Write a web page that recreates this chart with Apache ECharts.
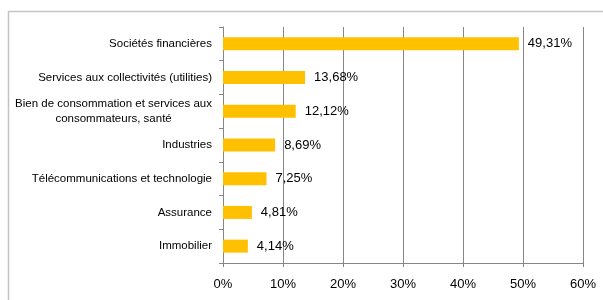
<!DOCTYPE html>
<html>
<head>
<meta charset="utf-8">
<script src="https://cdn.jsdelivr.net/npm/echarts@6/dist/echarts.min.js"></script>
<style>
html, body { margin: 0; padding: 0; background: #fff; }
#main { width: 603px; height: 300px; }
</style>
</head>
<body>
<div id="main"></div>
<script>
// sectors, top to bottom
var categories = [
  'Sociétés financières',
  'Services aux collectivités (utilities)',
  'Bien de consommation et services aux\nconsommateurs, santé',
  'Industries',
  'Télécommunications et technologie',
  'Assurance',
  'Immobilier'
];
var weights = [49.31, 13.68, 12.12, 8.69, 7.25, 4.81, 4.14];

var chart = echarts.init(document.getElementById('main'));

var option = {
  backgroundColor: '#fff',
  animation: false,
  textStyle: { fontFamily: 'Liberation Sans' },
  graphic: [{
    type: 'rect',
    left: 6, top: 9,
    shape: { width: 700, height: 400 },
    style: { fill: 'none', stroke: '#c4c4c4', lineWidth: 1.5 },
    silent: true
  }],
  grid: { left: 223, right: 20, top: 27, bottom: 37 },
  xAxis: {
    type: 'value',
    min: 0,
    max: 60,
    interval: 10,
    axisLine: { show: true, lineStyle: { color: '#868686' } },
    axisTick: { show: true, length: 4, lineStyle: { color: '#868686' } },
    splitLine: { show: true, lineStyle: { color: '#868686' } },
    axisLabel: { formatter: '{value}%', color: '#000', fontSize: 13, margin: 15 }
  },
  yAxis: {
    type: 'category',
    inverse: true,
    data: categories,
    axisLine: { show: true, lineStyle: { color: '#868686' } },
    axisTick: { show: true, length: 4, lineStyle: { color: '#868686' } },
    axisLabel: {
      color: '#000',
      fontSize: 11.5,
      margin: 11,
      lineHeight: 15,
      formatter: function (v) {
        return v.split('\n').map(function (s) { return '{c|' + s + '}'; }).join('\n');
      },
      rich: { c: { align: 'center', fontSize: 11.5, color: '#000', lineHeight: 15 } }
    }
  },
  series: [{
    type: 'bar',
    data: weights,
    barWidth: 13,
    itemStyle: { color: '#FFC000' },
    label: {
      show: true,
      position: 'right',
      distance: 9,
      color: '#000',
      fontSize: 13,
      formatter: function (p) { return p.value.toFixed(2).replace('.', ',') + '%'; }
    }
  }]
};

chart.setOption(option);
window.addEventListener('resize', function () { chart.resize(); });
</script>
</body>
</html>
